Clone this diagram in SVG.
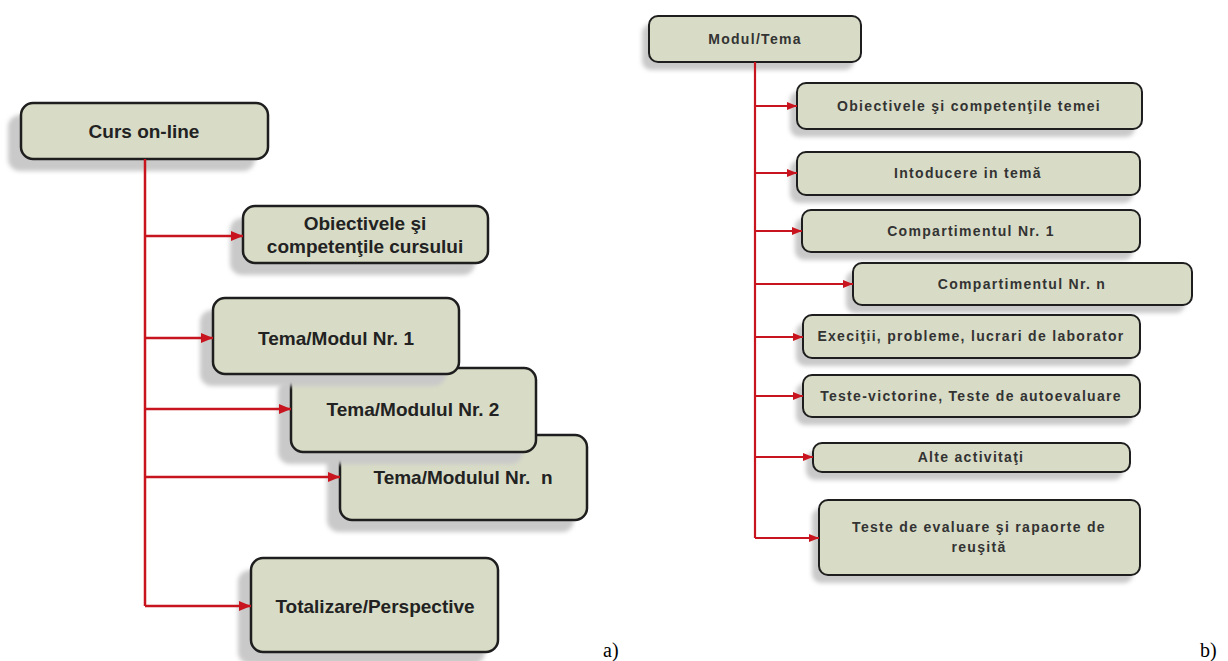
<svg xmlns="http://www.w3.org/2000/svg" width="1228" height="661" viewBox="0 0 1228 661">
<style>
.box{fill:#d8dcc6;stroke:#1e1e1e;stroke-width:2.5}
.bs{stroke:#1e1e1e;stroke-width:2}
.sh{fill:#c9c9c9;filter:url(#blur)}
.tl{font-family:"Liberation Sans",Arial,sans-serif;font-weight:bold;font-size:19px;fill:#222;text-anchor:middle}
.tr{font-family:"Liberation Sans",Arial,sans-serif;font-weight:bold;font-size:14px;letter-spacing:1.3px;fill:#333;text-anchor:middle}
.cl{fill:none;stroke:#c8141e;stroke-width:2.5}
.cr{fill:none;stroke:#c8141e;stroke-width:2.2}
.lab{font-family:"Liberation Serif","Times New Roman",serif;font-size:20px;fill:#000}
</style>
<defs>
<filter id="blur" x="-10%" y="-20%" width="120%" height="140%"><feGaussianBlur stdDeviation="2"/></filter>
<marker id="al" markerUnits="userSpaceOnUse" markerWidth="12" markerHeight="10" refX="12" refY="5" orient="auto"><path d="M0,0 L12,5 L0,10 z" fill="#c8141e"/></marker>
<marker id="ar" markerUnits="userSpaceOnUse" markerWidth="10" markerHeight="8" refX="10" refY="4" orient="auto"><path d="M0,0 L10,4 L0,8 z" fill="#c8141e"/></marker>
</defs>
<rect width="1228" height="661" fill="#fff"/>

<!-- Left diagram -->
<g id="curs">
<rect class="sh" x="8" y="115" width="247" height="56" rx="12"/>
<rect class="box" x="21" y="103" width="247" height="56" rx="12"/>
<text class="tl" x="144" y="138">Curs on-line</text>
</g>
<g id="obiective-curs">
<rect class="sh" x="230" y="218" width="245" height="57" rx="12"/>
<rect class="box" x="243" y="206" width="245" height="57" rx="12"/>
<text class="tl" x="365" y="230">Obiectivele şi</text>
<text class="tl" x="365" y="253">competenţile cursului</text>
</g>
<g id="tema-n">
<rect class="sh" x="327" y="447" width="247" height="85" rx="12"/>
<rect class="box" x="340" y="435" width="247" height="85" rx="12"/>
<text class="tl" x="463" y="484" xml:space="preserve">Tema/Modulul Nr.  n</text>
</g>
<g id="tema-2">
<rect class="sh" x="278" y="380" width="245" height="84" rx="12"/>
<rect class="box" x="291" y="368" width="245" height="84" rx="12"/>
<text class="tl" x="413" y="416">Tema/Modulul Nr. 2</text>
</g>
<g id="tema-1">
<rect class="sh" x="200" y="310" width="246" height="76" rx="12"/>
<rect class="box" x="213" y="298" width="246" height="76" rx="12"/>
<text class="tl" x="336" y="345">Tema/Modul Nr. 1</text>
</g>
<g id="totalizare">
<rect class="sh" x="238" y="570" width="247" height="94" rx="12"/>
<rect class="box" x="251" y="558" width="247" height="94" rx="12"/>
<text class="tl" x="375" y="613">Totalizare/Perspective</text>
</g>

<!-- Right diagram -->
<g id="modul">
<rect class="sh" x="642" y="24" width="212" height="46" rx="9"/>
<rect class="box bs" x="649" y="16" width="212" height="46" rx="9"/>
<text class="tr" x="755" y="44">Modul/Tema</text>
</g>
<g id="obiective-tema">
<rect class="sh" x="790" y="91" width="345" height="46" rx="9"/>
<rect class="box bs" x="797" y="83" width="345" height="46" rx="9"/>
<text class="tr" x="969" y="111">Obiectivele şi competenţile temei</text>
</g>
<g id="introducere">
<rect class="sh" x="790" y="160" width="343" height="43" rx="9"/>
<rect class="box bs" x="797" y="152" width="343" height="43" rx="9"/>
<text class="tr" x="968" y="178">Intoducere in temă</text>
</g>
<g id="comp-1">
<rect class="sh" x="795" y="218" width="338" height="42" rx="9"/>
<rect class="box bs" x="802" y="210" width="338" height="42" rx="9"/>
<text class="tr" x="971" y="236">Compartimentul Nr. 1</text>
</g>
<g id="comp-n">
<rect class="sh" x="846" y="271" width="339" height="42" rx="9"/>
<rect class="box bs" x="853" y="263" width="339" height="42" rx="9"/>
<text class="tr" x="1022" y="289">Compartimentul Nr. n</text>
</g>
<g id="exercitii">
<rect class="sh" x="796" y="323" width="337" height="43" rx="9"/>
<rect class="box bs" x="803" y="315" width="337" height="43" rx="9"/>
<text class="tr" x="971" y="341">Execiţii, probleme, lucrari de laborator</text>
</g>
<g id="teste-victorine">
<rect class="sh" x="796" y="383" width="337" height="42" rx="9"/>
<rect class="box bs" x="803" y="375" width="337" height="42" rx="9"/>
<text class="tr" x="971" y="401">Teste-victorine, Teste de autoevaluare</text>
</g>
<g id="alte">
<rect class="sh" x="806" y="451" width="317" height="29" rx="9"/>
<rect class="box bs" x="813" y="443" width="317" height="29" rx="9"/>
<text class="tr" x="971" y="462">Alte activitaţi</text>
</g>
<g id="teste-evaluare">
<rect class="sh" x="812" y="508" width="321" height="75" rx="9"/>
<rect class="box bs" x="819" y="500" width="321" height="75" rx="9"/>
<text class="tr" x="979" y="532">Teste de evaluare şi rapaorte de</text>
<text class="tr" x="979" y="552">reuşită</text>
</g>

<g id="connectors">
<path class="cl" d="M145,159 V606"/>
<path class="cl" d="M145,236 H243" marker-end="url(#al)"/>
<path class="cl" d="M145,338 H213" marker-end="url(#al)"/>
<path class="cl" d="M145,409 H291" marker-end="url(#al)"/>
<path class="cl" d="M145,477 H340" marker-end="url(#al)"/>
<path class="cl" d="M145,606 H251" marker-end="url(#al)"/>
<path class="cr" d="M755,62 V538"/>
<path class="cr" d="M755,106 H797" marker-end="url(#ar)"/>
<path class="cr" d="M755,173 H797" marker-end="url(#ar)"/>
<path class="cr" d="M755,231 H802" marker-end="url(#ar)"/>
<path class="cr" d="M755,284 H853" marker-end="url(#ar)"/>
<path class="cr" d="M755,337 H803" marker-end="url(#ar)"/>
<path class="cr" d="M755,396 H803" marker-end="url(#ar)"/>
<path class="cr" d="M755,457 H813" marker-end="url(#ar)"/>
<path class="cr" d="M755,538 H819" marker-end="url(#ar)"/>
</g>

<text class="lab" x="603" y="657">a)</text>
<text class="lab" x="1200" y="657">b)</text>
</svg>
